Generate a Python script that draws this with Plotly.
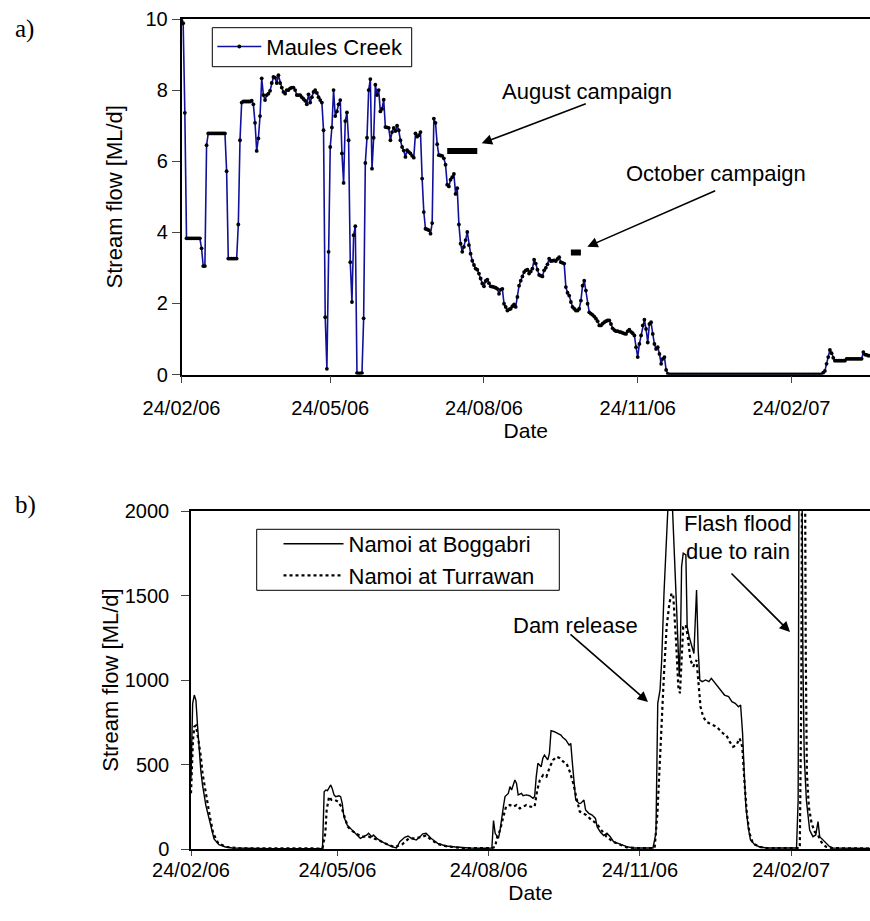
import pandas as pd
import plotly.graph_objects as go

START = "2006-02-24"

# ---------------- a) Maules Creek daily stream flow (ML/d), day 0 = 24/02/06
maules_flow = [
    9.95, 9.88, 7.36, 3.83, 3.83, 3.83, 3.83, 3.83, 3.83, 3.83,
    3.83, 3.83, 3.55, 3.05, 3.05, 6.45, 6.78, 6.78, 6.78, 6.78,
    6.78, 6.78, 6.78, 6.78, 6.78, 6.78, 6.78, 5.72, 3.26, 3.26,
    3.26, 3.26, 3.26, 3.26, 4.22, 6.59, 7.65, 7.68, 7.68, 7.68,
    7.68, 7.68, 7.70, 7.60, 7.08, 6.29, 6.64, 7.27, 8.33, 7.86,
    7.72, 7.86, 7.90, 7.98, 8.20, 8.37, 8.35, 8.20, 8.42, 8.20,
    8.07, 7.95, 7.90, 8.00, 8.00, 8.05, 8.07, 8.07, 8.00, 7.86,
    7.86, 7.86, 7.80, 7.75, 7.70, 7.60, 7.88, 7.65, 7.80, 7.95,
    8.00, 7.92, 7.80, 7.72, 7.65, 6.87, 1.61, 0.16, 3.45, 6.40,
    6.95, 8.00, 7.27, 7.40, 7.60, 7.72, 6.22, 5.39, 7.13, 7.37,
    6.59, 3.16, 2.04, 3.92, 4.17, 0.04, 0.03, 0.03, 0.04, 1.58,
    5.95, 6.66, 8.00, 8.31, 5.79, 6.66, 8.15, 7.86, 8.00, 7.40,
    7.47, 7.73, 6.96, 6.95, 6.94, 6.59, 6.82, 6.94, 6.85, 7.00,
    6.87, 6.59, 6.40, 6.30, 6.12, 6.31, 6.26, 6.22, 6.15, 6.10,
    6.78, 6.69, 6.73, 6.82, 5.51, 4.57, 4.10, 4.08, 4.06, 3.96,
    4.26, 7.20, 7.08, 6.48, 6.17, 6.16, 6.15, 6.08, 5.90, 5.34,
    5.29, 5.48, 5.55, 5.64, 5.08, 5.24, 4.22, 3.68, 3.45, 3.59,
    3.78, 4.01, 3.64, 3.40, 3.20, 3.08, 2.98, 2.95, 2.84, 2.70,
    2.56, 2.48, 2.63, 2.67, 2.57, 2.48, 2.47, 2.46, 2.44, 2.41,
    2.27, 2.39, 2.41, 1.99, 1.90, 1.80, 1.83, 1.85, 1.92, 1.97,
    1.90, 2.18, 2.50, 2.64, 2.76, 2.88, 2.93, 2.95, 2.84, 2.90,
    2.98, 3.23, 3.12, 2.95, 2.80, 2.78, 2.76, 2.93, 3.00, 3.10,
    3.26, 3.19, 3.20, 3.21, 3.19, 3.25, 3.30, 3.16, 3.14, 3.12,
    2.46, 2.30, 2.22, 2.04, 1.90, 1.85, 1.80, 1.80, 1.85, 2.08,
    2.50, 2.64, 2.36, 1.99, 1.75, 1.71, 1.68, 1.63, 1.57, 1.50,
    1.38, 1.38, 1.43, 1.47, 1.50, 1.52, 1.52, 1.42, 1.30, 1.25,
    1.22, 1.22, 1.20, 1.19, 1.17, 1.15, 1.14, 1.22, 1.26, 1.20,
    1.16, 1.10, 0.77, 0.49, 0.86, 1.10, 1.38, 1.54, 1.28, 0.90,
    1.42, 1.47, 1.14, 0.86, 0.72, 0.77, 0.58, 0.30, 0.44, 0.49,
    0.13, 0.02, 0, 0, 0, 0, 0, 0, 0, 0,
    0, 0, 0, 0, 0, 0, 0, 0, 0, 0,
    0, 0, 0, 0, 0, 0, 0, 0, 0, 0,
    0, 0, 0, 0, 0, 0, 0, 0, 0, 0,
    0, 0, 0, 0, 0, 0, 0, 0, 0, 0,
    0, 0, 0, 0, 0, 0, 0, 0, 0, 0,
    0, 0, 0, 0, 0, 0, 0, 0, 0, 0,
    0, 0, 0, 0, 0, 0, 0, 0, 0, 0,
    0, 0, 0, 0, 0, 0, 0, 0, 0, 0,
    0, 0, 0, 0, 0.05, 0.10, 0.30, 0.49, 0.69, 0.60,
    0.47, 0.39, 0.39, 0.39, 0.39, 0.39, 0.39, 0.39, 0.44, 0.44,
    0.44, 0.44, 0.44, 0.44, 0.44, 0.44, 0.44, 0.44, 0.63, 0.56,
    0.55, 0.53, 0.53,
]

# sampling campaigns (start, end) and the level at which the bar is drawn
aug_campaign = ["2006-08-02", "2006-08-20"]
aug_level = [6.29, 6.29]
oct_campaign = ["2006-10-15", "2006-10-21"]
oct_level = [3.43, 3.43]

# ---------------- b) Namoi River (ML/d), day offsets from 24/02/06
boggabri_day = [
    0, 1, 2, 3, 4, 5, 6, 7, 8, 9, 10, 11, 12, 14, 17, 21, 25, 34, 50, 79,
    80, 81, 82, 83, 85, 86, 87, 88, 90, 91, 92, 93, 95, 97, 99, 101, 103, 105,
    107, 108, 110, 111, 113, 116, 119, 122, 125, 127, 130, 132, 134, 137, 139,
    141, 143, 146, 150, 155, 161, 169, 178, 183, 184, 185, 187, 188, 190, 191,
    193, 194, 195, 197, 198, 199, 201, 202, 204, 206, 208, 209, 210, 211, 213,
    214, 215, 217, 218, 219, 221, 223, 225, 226, 228, 230, 231, 232, 233, 234,
    236, 237, 239, 240, 242, 244, 246, 247, 249, 251, 253, 255, 257, 260, 263,
    265, 269, 277, 281, 282.8, 283.9, 285.3, 286.3, 287.7, 289.3, 290.7, 292.3,
    293.7, 295.4, 297, 297.8, 298.4, 299.4, 301, 301.8, 303, 304.5, 305.9,
    307.5, 308.5, 309.5, 311, 313, 315, 316.5, 318.5, 320.5, 322.5, 324.5, 327,
    329, 331, 333, 334.3, 335.5, 336.5, 337.5, 339, 340.3, 343, 346, 350,
    368.3, 369.3, 369.9, 370.8, 371.6, 372.2, 373, 374.3, 376.3, 378.3, 380,
    381.4, 382.4, 384.5, 386.5, 388.5, 390.5, 413,
]
boggabri_flow = [
    420, 860, 911, 880, 724, 566, 460, 380, 310, 260, 220, 181, 125, 60, 25, 12, 6, 3, 2, 2,
    5, 339, 349, 345, 379, 355, 320, 310, 315, 310, 270, 191, 142, 122, 103, 83, 63, 73,
    83, 93, 73, 83, 63, 43, 28, 14, 6, 43, 69, 77, 63, 53, 70,
    90, 93, 63, 33, 18, 12, 6, 4, 6, 168, 93, 63, 112, 250, 310,
    329, 369, 349, 408, 388, 320, 329, 315, 320, 315, 300, 310, 428, 507, 487,
    537, 556, 527, 566, 700, 694, 684, 674, 661, 645, 615, 625, 507, 389, 290,
    270, 270, 290, 231, 211, 201, 181, 132, 100, 80, 93, 73, 43, 33, 20,
    14, 6, 3, 6, 93, 862, 941, 1118, 1513, 1868, 2150, 2150,
    1769, 1414, 1020, 1276, 1670, 1750, 1740, 1315, 1256, 1197, 1157,
    1532, 1177, 1000, 990, 1000, 990, 1010, 985, 961, 941, 911, 902,
    872, 862, 842, 852, 684, 448, 250, 122, 53, 24, 12, 6,
    6, 290, 2600, 4000, 2600, 1100, 550, 290, 112, 73, 83,
    162, 73, 53, 33, 14, 6, 3,
]

turrawan_day = [
    0, 1.2, 2, 3, 4.5, 6, 7, 9, 11.5, 13.5, 16.6, 21.5, 30, 79, 80, 81.7, 82.5,
    84, 85.5, 87.5, 89.5, 91.4, 93.4, 95.4, 97.4, 100, 104, 108, 114, 120, 124,
    128.5, 132.6, 136.7, 140.7, 143, 146, 150, 156, 165, 183, 184.9, 186.3, 188,
    190, 191.6, 194, 196, 198, 200, 202, 204, 206.6, 209, 210.6, 212.2, 214.2,
    216.2, 218.3, 220.3, 222.3, 224.4, 226.4, 228.4, 230.4, 232.5, 234.5, 236.5,
    238.5, 240.5, 243.6, 246.6, 249.6, 252.7, 256.7, 261, 265, 270, 282, 283.7,
    284.9, 286.3, 287.7, 289.3, 291, 292.3, 293.3, 295, 296.4, 297.4, 298.4,
    299.4, 301, 302.4, 303.8, 305.5, 307.5, 308.5, 309.9, 311.5, 313.5, 315.5,
    317.5, 319.5, 321.6, 323.6, 325.6, 327.6, 329.7, 331.7, 333.7, 335.3, 336.7,
    338.1, 339.7, 341.8, 346, 350, 370.3, 371.2, 371.9, 373.2, 373.9, 374.6,
    375.8, 377.5, 379.5, 381.5, 383.5, 386, 390, 413,
]
turrawan_flow = [
    330, 645, 724, 730, 645, 546, 448, 330, 191, 93, 33, 12, 4, 3, 5, 93, 230,
    310, 290, 290, 280, 250, 191, 132, 112, 93, 73, 73, 53, 24, 12,
    28, 63, 63, 73, 80, 55, 30, 15, 6, 5, 12, 73, 112,
    191, 250, 260, 250, 260, 240, 250, 260, 250, 250, 349, 408, 438,
    428, 487, 527, 546, 537, 517, 507, 458, 389, 300, 221,
    211, 201, 171, 152, 112, 73, 43, 24, 10, 6, 6, 211,
    487, 724, 1040, 1315, 1454, 1513, 1503, 1237, 961, 921, 1118,
    1315, 1325, 1237, 1118, 1079, 1118, 1020, 842, 783, 753, 743,
    734, 724, 704, 684, 674, 635, 605, 615, 655, 605, 389,
    211, 93, 33, 12, 6, 6, 900, 3000, 3000, 1200, 450,
    250, 150, 100, 80, 40, 15, 5, 3,
]

# ---------------- build
t0 = pd.Timestamp(START)
maules_dates = pd.date_range(START, periods=len(maules_flow), freq="D")
bog_dates = t0 + pd.to_timedelta(boggabri_day, unit="D")
tur_dates = t0 + pd.to_timedelta(turrawan_day, unit="D")

tick_vals = ["2006-02-24", "2006-05-24", "2006-08-24", "2006-11-24", "2007-02-24"]
tick_text = ["24/02/06", "24/05/06", "24/08/06", "24/11/06", "24/02/07"]

W, H = 870, 921
SANS = "Liberation Sans, Arial, sans-serif"
SERIF = "Liberation Serif, Times New Roman, serif"
FS = 20


def px(x):
    return x / W


def py(y):
    return 1 - y / H


fig = go.Figure()

fig.add_trace(go.Scatter(
    x=maules_dates, y=maules_flow, mode="lines+markers", name="Maules Creek",
    line=dict(color="#10109A", width=1.6),
    marker=dict(color="black", size=3.8),
    xaxis="x", yaxis="y", legend="legend",
))
fig.add_trace(go.Scatter(
    x=pd.to_datetime(aug_campaign), y=aug_level, mode="lines", showlegend=False,
    line=dict(color="black", width=6), xaxis="x", yaxis="y",
))
fig.add_trace(go.Scatter(
    x=pd.to_datetime(oct_campaign), y=oct_level, mode="lines", showlegend=False,
    line=dict(color="black", width=6), xaxis="x", yaxis="y",
))

fig.add_trace(go.Scatter(
    x=bog_dates, y=boggabri_flow, mode="lines", name="Namoi at Boggabri",
    line=dict(color="black", width=1.4), xaxis="x2", yaxis="y2", legend="legend2",
))
fig.add_trace(go.Scatter(
    x=tur_dates, y=turrawan_flow, mode="lines", name="Namoi at Turrawan",
    line=dict(color="black", width=2.2, dash="dot"), xaxis="x2", yaxis="y2",
    legend="legend2",
))

axis_common = dict(
    showline=True, linecolor="black", linewidth=1.5, showgrid=False,
    zeroline=False, ticks="outside", tickcolor="#444", tickwidth=1,
    automargin=False,
    tickfont=dict(family=SANS, size=FS, color="black"),
)
title_font = dict(family=SANS, size=22, color="black")
date_font = dict(family=SANS, size=21, color="black")

end_top = t0 + pd.Timedelta(days=412)
end_bot = t0 + pd.Timedelta(days=413)

fig.update_layout(
    width=W, height=H, autosize=False,
    margin=dict(l=0, r=0, t=0, b=0, autoexpand=False),
    paper_bgcolor="white", plot_bgcolor="white",
    xaxis=dict(
        **axis_common, domain=[px(181.5), 1.0], anchor="y", type="date",
        range=[t0, end_top], tickvals=pd.to_datetime(tick_vals), ticktext=tick_text,
        ticklen=7, mirror=True, ticklabelstandoff=8,
        title=dict(text="Date", font=date_font, standoff=3),
    ),
    yaxis=dict(
        **axis_common, domain=[py(374.5), py(19)], anchor="x", range=[0, 10],
        tickvals=[0, 2, 4, 6, 8, 10], ticklen=8,
        title=dict(text="Stream flow [ML/d]", font=title_font, standoff=17),
    ),
    xaxis2=dict(
        **axis_common, domain=[px(191), 1.0], anchor="y2", type="date",
        range=[t0, end_bot], tickvals=pd.to_datetime(tick_vals), ticktext=tick_text,
        ticklen=5, mirror=True, ticklabelstandoff=-3,
        title=dict(text="Date", font=date_font, standoff=1),
    ),
    yaxis2=dict(
        **axis_common, domain=[py(849), py(511)], anchor="x2", range=[0, 2000],
        tickvals=[0, 500, 1000, 1500, 2000], ticklen=8, ticklabelstandoff=8,
        title=dict(text="Stream flow [ML/d]", font=title_font, standoff=0),
    ),
    legend=dict(
        x=px(212.3), y=py(25.7), xanchor="left", yanchor="top",
        borderwidth=0, bgcolor="rgba(0,0,0,0)",
        font=dict(family=SANS, size=22, color="black"), itemwidth=44,
    ),
    legend2=dict(
        x=px(278.5), y=py(523), xanchor="left", yanchor="top",
        borderwidth=0, bgcolor="rgba(0,0,0,0)", tracegroupgap=0,
        font=dict(family=SANS, size=22, color="black"), itemwidth=60,
    ),
    showlegend=True,
)

# legend frames
for (x0, y0, x1, y1) in [(212.3, 27.7, 411.7, 66.7), (256.7, 529.3, 559.3, 590.3)]:
    fig.add_shape(type="rect", xref="paper", yref="paper",
                  x0=px(x0), x1=px(x1), y0=py(y1), y1=py(y0),
                  line=dict(color="black", width=1), fillcolor="rgba(0,0,0,0)",
                  layer="above")

ann_font = dict(family=SANS, size=22, color="black")
texts = [
    ("August campaign", 586.5, 91),
    ("October campaign", 716, 174),
    ("Dam release", 575, 625),
    ("Flash flood", 737.5, 523),
    ("due to rain", 737.5, 551),
]
for t, x, y in texts:
    fig.add_annotation(text=t, x=px(x), y=py(y), xref="paper", yref="paper",
                       showarrow=False, font=ann_font, xanchor="center", yanchor="middle")

arrows = [
    ((587.3, 103.3), (481.7, 143.3)),
    ((716.7, 190), (587.3, 246.7)),
    ((569, 633), (648, 702)),
    ((730, 572), (790, 632)),
]
for (tx, ty), (hx, hy) in arrows:
    fig.add_annotation(text="", x=px(hx), y=py(hy), xref="paper", yref="paper",
                       ax=tx - hx, ay=ty - hy, axref="pixel", ayref="pixel",
                       showarrow=True, arrowhead=2, arrowsize=1.3, arrowwidth=1.6,
                       arrowcolor="black")

for t, x, y in [("a)", 24, 29), ("b)", 25, 505)]:
    fig.add_annotation(text=t, x=px(x), y=py(y), xref="paper", yref="paper",
                       showarrow=False, font=dict(family=SERIF, size=25, color="black"),
                       xanchor="center", yanchor="middle")

fig.write_html("out.html")
